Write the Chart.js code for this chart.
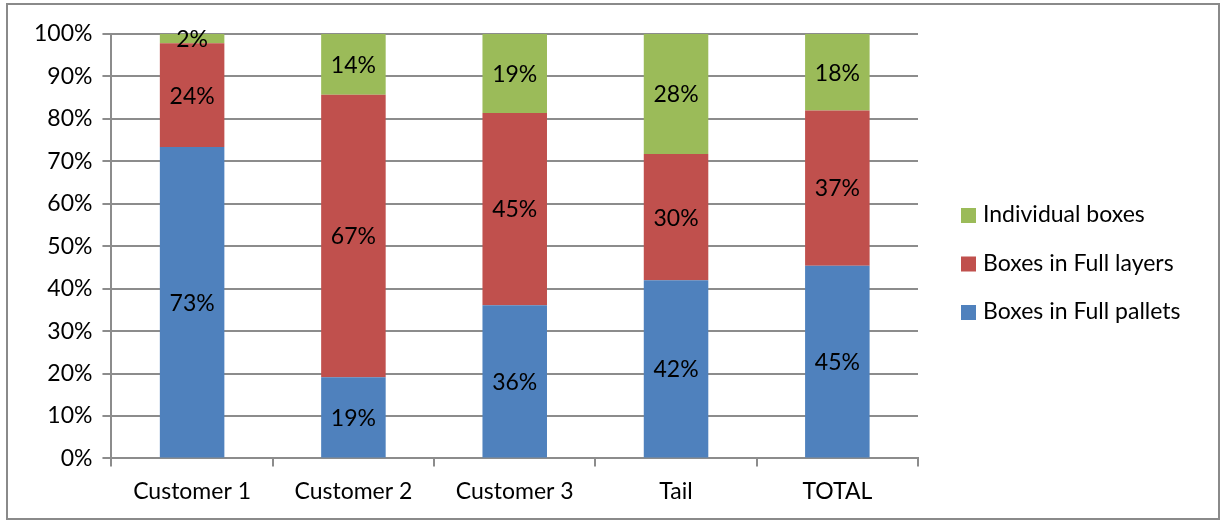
<!DOCTYPE html>
<html lang="en">
<head>
    <meta charset="UTF-8">
    <title>Boxes by picking type</title>
    <script src="https://cdn.jsdelivr.net/npm/chart.js"></script>
    <style>
        body { margin: 0; background: #fff; }
        .frame { position: absolute; left: 6px; top: 3px; width: 1210px; height: 513px; border: 2px solid #8a8a8a; }
        .wrap { position: absolute; left: 0; top: 0; width: 1220px; height: 520px; }
    </style>
</head>
<body>
<div class="frame"></div>
<div class="wrap"><canvas id="chart" width="1220" height="520"></canvas></div>

<script>
    const categories = ['Customer 1', 'Customer 2', 'Customer 3', 'Tail', 'TOTAL'];
    const fullPallets = [73.4, 19.1, 36.1, 42.0, 45.4];
    const fullLayers = [24.4, 66.6, 45.3, 29.7, 36.6];
    const individualBoxes = [2.2, 14.3, 18.6, 28.3, 18.0];

    const FONT = 'Lato, "Open Sans", sans-serif';
    const SIZE = 23;

    // labels inside each segment
    const segmentLabels = {
        id: 'segmentLabels',
        afterDatasetsDraw(chart) {
            const c = chart.ctx;
            c.save();
            c.font = SIZE + 'px ' + FONT;
            c.fillStyle = '#000';
            c.textAlign = 'center';
            c.textBaseline = 'middle';
            chart.data.datasets.forEach((ds, i) => {
                chart.getDatasetMeta(i).data.forEach((bar, j) => {
                    const mid = (bar.y + bar.base) / 2;
                    c.fillText(Math.round(ds.data[j]) + '%', bar.x, mid + 1);
                });
            });
            c.restore();
        }
    };

    // legend on the right, top item = last series
    const sideLegend = {
        id: 'sideLegend',
        afterDraw(chart) {
            const c = chart.ctx;
            const x = chart.chartArea.right + 43;
            let y = 215;
            c.save();
            c.font = SIZE + 'px ' + FONT;
            c.textBaseline = 'middle';
            c.textAlign = 'left';
            chart.data.datasets.slice().reverse().forEach(ds => {
                c.fillStyle = ds.backgroundColor;
                c.fillRect(x, y - 7, 15, 15);
                c.fillStyle = '#000';
                c.fillText(ds.label, x + 22, y);
                y += 48.5;
            });
            c.restore();
        }
    };

    new Chart(document.getElementById('chart'), {
        type: 'bar',
        data: {
            labels: categories,
            datasets: [
                { label: 'Boxes in Full pallets', data: fullPallets, backgroundColor: '#4F81BD' },
                { label: 'Boxes in Full layers', data: fullLayers, backgroundColor: '#C0504D' },
                { label: 'Individual boxes', data: individualBoxes, backgroundColor: '#9BBB59' }
            ]
        },
        options: {
            responsive: false,
            animation: false,
            layout: { padding: { left: 24, top: 34, right: 302, bottom: 4 } },
            datasets: { bar: { barPercentage: 0.4, categoryPercentage: 1 } },
            plugins: {
                tooltip: { enabled: false },
                legend: { display: false }
            },
            scales: {
                x: {
                    stacked: true,
                    grid: { drawOnChartArea: false, drawTicks: true, tickLength: 8, color: '#8c8c8c', lineWidth: 2 },
                    border: { color: '#8c8c8c', width: 2 },
                    ticks: { color: '#000', padding: 11, font: { family: FONT, size: SIZE } }
                },
                y: {
                    stacked: true,
                    min: 0, max: 100,
                    grid: { color: '#8c8c8c', lineWidth: 2, tickLength: 9 },
                    border: { color: '#8c8c8c', width: 2 },
                    ticks: {
                        stepSize: 10, color: '#000', padding: 10,
                        font: { family: FONT, size: SIZE },
                        callback: v => v + '%'
                    }
                }
            }
        },
        plugins: [segmentLabels, sideLegend]
    });
</script>
</body>
</html>
